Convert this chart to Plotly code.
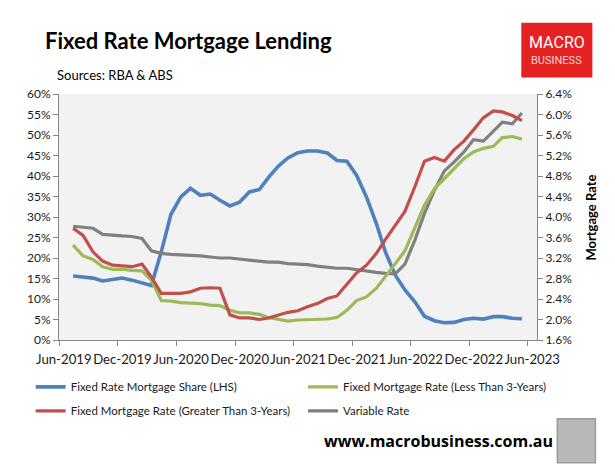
import pandas as pd
import plotly.graph_objects as go

# Monthly observations, Jul-2019 .. May-2023 (47 months)
months = pd.date_range("2019-07-01", "2023-05-01", freq="MS") + pd.Timedelta(days=14)

fixed_share = [15.6, 15.3, 15.1, 14.4, 14.8, 15.1, 14.6, 14.0, 13.3, 21.5, 30.6, 34.9, 37.0,
               35.3, 35.6, 34.1, 32.7, 33.6, 36.1, 36.7, 39.6, 42.4, 44.4, 45.7, 46.1, 46.1,
               45.6, 43.8, 43.6, 40.2, 34.9, 28.4, 21.5, 15.8, 12.2, 9.3, 5.8, 4.7, 4.2, 4.3,
               5.0, 5.3, 5.1, 5.7, 5.7, 5.3, 5.2]

fixed_lt3 = [3.45, 3.24, 3.17, 3.03, 2.98, 2.98, 2.96, 2.95, 2.77, 2.37, 2.36, 2.33, 2.32,
             2.31, 2.28, 2.27, 2.18, 2.13, 2.13, 2.10, 2.04, 2.00, 1.97, 1.99, 2.00, 2.00,
             2.01, 2.04, 2.18, 2.37, 2.44, 2.61, 2.83, 3.09, 3.34, 3.81, 4.23, 4.55, 4.75,
             4.94, 5.14, 5.27, 5.34, 5.38, 5.55, 5.57, 5.52]

fixed_gt3 = [3.78, 3.64, 3.32, 3.14, 3.06, 3.04, 3.03, 3.08, 2.83, 2.51, 2.51, 2.51, 2.54,
             2.61, 2.62, 2.61, 2.09, 2.03, 2.03, 2.00, 2.03, 2.08, 2.14, 2.17, 2.25, 2.31,
             2.41, 2.46, 2.70, 2.91, 3.06, 3.29, 3.56, 3.84, 4.11, 4.59, 5.09, 5.16, 5.09,
             5.31, 5.48, 5.70, 5.94, 6.07, 6.05, 5.98, 5.88]

variable_rate = [3.82, 3.80, 3.78, 3.66, 3.64, 3.63, 3.62, 3.58, 3.34, 3.29, 3.27, 3.26, 3.26,
                 3.24, 3.22, 3.20, 3.20, 3.18, 3.16, 3.14, 3.12, 3.12, 3.09, 3.08, 3.07, 3.04,
                 3.02, 3.00, 3.00, 2.97, 2.94, 2.92, 2.90, 2.89, 3.08, 3.55, 4.07, 4.52, 4.90,
                 5.07, 5.27, 5.51, 5.48, 5.68, 5.85, 5.82, 6.03]

tick_labels = ["Jun-2019", "Dec-2019", "Jun-2020", "Dec-2020", "Jun-2021",
               "Dec-2021", "Jun-2022", "Dec-2022", "Jun-2023"]
label_dates = ["2019-06-16", "2019-12-16", "2020-06-16", "2020-12-16", "2021-06-16",
               "2021-12-16", "2022-06-16", "2022-12-16", "2023-06-16"]
boundary_dates = ["2019-06-01", "2019-12-01", "2020-06-01", "2020-12-01", "2021-06-01",
                  "2021-12-01", "2022-06-01", "2022-12-01", "2023-06-01"]

BLUE, GREEN, RED, GREY = "#4F81BD", "#9BBB59", "#C0504D", "#808080"
AXIS = "#868686"
TXT = "#1a1a1a"
FONT = "Lato"

# Figure geometry (page has an 8px body margin, so figure is offset by 8px)
OFF = 8
W_FIG, H_FIG = 599, 456
ML, MR, MT, MB = 51.3, 70.3, 85.5, 124.0
PW = W_FIG - ML - MR
PH = H_FIG - MT - MB


def px(xp):
    return (xp - OFF - ML) / PW


def py(yp):
    return 1 - (yp - OFF - MT) / PH


fig = go.Figure()
fig.add_trace(go.Scatter(x=months, y=variable_rate, name="Variable Rate", yaxis="y2",
                         mode="lines", line=dict(color=GREY, width=3.2), legend="legend4"))
fig.add_trace(go.Scatter(x=months, y=fixed_lt3, name="Fixed Mortgage Rate (Less Than 3-Years)",
                         yaxis="y2", mode="lines", line=dict(color=GREEN, width=3.2),
                         legend="legend2"))
fig.add_trace(go.Scatter(x=months, y=fixed_gt3, name="Fixed Mortgage Rate (Greater Than 3-Years)",
                         yaxis="y2", mode="lines", line=dict(color=RED, width=3.2),
                         legend="legend3"))
fig.add_trace(go.Scatter(x=months, y=fixed_share, name="Fixed Rate Mortgage Share (LHS)",
                         mode="lines", line=dict(color=BLUE, width=3.6), legend="legend"))


def leg(x_page, y_page):
    return dict(orientation="h", xref="paper", yref="paper", x=px(x_page), xanchor="left",
                y=py(y_page), yanchor="middle",
                font=dict(family=FONT, size=11.5, color=TXT),
                bgcolor="rgba(0,0,0,0)", itemwidth=30)


tick_font = dict(family=FONT, size=12, color=TXT)

fig.update_layout(
    width=W_FIG, height=H_FIG,
    margin=dict(l=ML, r=MR, t=MT, b=MB, autoexpand=False),
    paper_bgcolor="white", plot_bgcolor="#F2F2F2",
    font=dict(family=FONT, size=12, color=TXT),
    showlegend=True,
    legend=leg(31, 387),
    legend2=leg(303, 387),
    legend3=leg(31, 411),
    legend4=leg(303, 411),
    xaxis=dict(type="date", range=["2019-06-01", "2023-07-01"],
               tickmode="array", tickvals=label_dates, ticktext=tick_labels,
               ticks="", showgrid=False, zeroline=False, ticklabelstandoff=7,
               tickangle=0,
               showline=True, linecolor=AXIS, linewidth=1,
               tickfont=dict(family=FONT, size=13.2, color=TXT),
               minor=dict(tickmode="array", tickvals=boundary_dates, ticks="outside",
                          ticklen=5, tickcolor=AXIS, tickwidth=1, showgrid=False)),
    yaxis=dict(range=[0, 60], dtick=5, tick0=0, ticksuffix="%", showgrid=False,
               zeroline=False, showline=True, linecolor=AXIS, linewidth=1,
               ticks="outside", ticklen=5, tickcolor=AXIS, tickfont=tick_font),
    yaxis2=dict(range=[1.6, 6.4], dtick=0.4, tick0=1.6, tickformat=".1f", ticksuffix="%",
                overlaying="y", side="right", showgrid=False, zeroline=False,
                showline=True, linecolor=AXIS, linewidth=1,
                ticks="outside", ticklen=5, tickcolor=AXIS, tickfont=tick_font),
)

# Titles
fig.add_annotation(text="<b>Fixed Rate Mortgage Lending</b>", xref="paper", yref="paper",
                   x=px(43), y=py(40), xanchor="left", yanchor="middle",
                   showarrow=False, font=dict(family=FONT, size=22, color="#000000"))
fig.add_annotation(text="Sources: RBA &amp; ABS", xref="paper", yref="paper",
                   x=px(55), y=py(74), xanchor="left", yanchor="middle",
                   showarrow=False, font=dict(family=FONT, size=13, color="#000000"))
fig.add_annotation(text="<b>Mortgage Rate</b>", xref="paper", yref="paper",
                   x=px(591), y=py(217), xanchor="center", yanchor="middle",
                   textangle=-90, showarrow=False,
                   font=dict(family=FONT, size=13, color="#000000"))

# MacroBusiness logo box
fig.add_shape(type="rect", xref="paper", yref="paper",
              x0=px(521), x1=px(592), y0=py(77), y1=py(22),
              fillcolor="#E52222", line=dict(width=0))
fig.add_annotation(text="MACRO", xref="paper", yref="paper",
                   x=px(556.5), y=py(42), showarrow=False,
                   xanchor="center", yanchor="middle",
                   font=dict(family="Roboto", size=16, color="white"))
fig.add_annotation(text="BUSINESS", xref="paper", yref="paper",
                   x=px(556.5), y=py(60), showarrow=False,
                   xanchor="center", yanchor="middle",
                   font=dict(family="Roboto", size=11, color="#FAD4D4"))

# Footer
fig.add_annotation(text="<b>www.macrobusiness.com.au</b>", xref="paper", yref="paper",
                   x=px(438), y=py(441), showarrow=False,
                   xanchor="center", yanchor="middle",
                   font=dict(family="Open Sans", size=16, color="#000000"))
fig.add_shape(type="rect", xref="paper", yref="paper",
              x0=px(557), x1=px(595), y0=py(463), y1=py(419),
              fillcolor="#B8B8B8", line=dict(color="#9A9A9A", width=1.5))

fig.write_html("out.html")
